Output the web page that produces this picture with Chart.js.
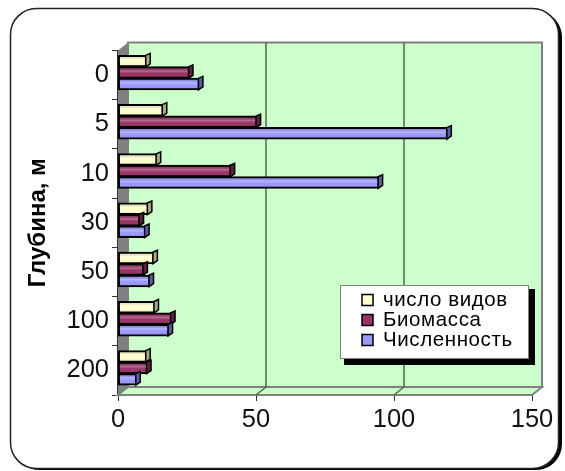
<!DOCTYPE html>
<html>
<head>
<meta charset="utf-8">
<style>
body { margin: 0; background: #fff; }
canvas { display: block; }
</style>
<script src="https://cdn.jsdelivr.net/npm/chart.js@4"></script>
</head>
<body>
<canvas id="myChart" width="565" height="471"></canvas>
<script>
const depths = ['0', '5', '10', '30', '50', '100', '200'];
const speciesCount = [10.4, 16.4, 14.2, 11, 13, 13.4, 10.4];
const biomass = [25.9, 50.4, 41, 8, 9.4, 19.4, 10.7];
const abundance = [29.5, 119.5, 94.6, 10, 11.6, 18.5, 6.8];
const seriesNames = ['число видов', 'Биомасса', 'Численность'];
const seriesColors = ['#FFFFCC', '#993366', '#9999FF'];
const capColors = ['#aaaa80', '#5c1f3d', '#5c5ca8'];
const axisTicks = [0, 50, 100, 150];

const depthX = 10; // depth of the 3d box
const depthY = 8;
const FONT = '"Liberation Sans", Arial, sans-serif';

// rounded panel and the 3d walls behind the bars
const backdrop = {
    id: 'backdrop',
    beforeDraw(chart) {
        const c = chart.ctx;
        c.save();
        c.fillStyle = '#000';
        c.beginPath();
        c.roundRect(13, 11, 549, 459, 26);
        c.fill();
        c.fillStyle = '#fff';
        c.strokeStyle = '#222';
        c.lineWidth = 1.5;
        c.beginPath();
        c.roundRect(10.5, 8.5, 548, 460, 26);
        c.fill();
        c.stroke();
        c.restore();
    },
    beforeDatasetsDraw(chart) {
        const c = chart.ctx;
        const a = chart.chartArea;
        c.save();
        // back wall
        c.fillStyle = '#CCFFCC';
        c.strokeStyle = '#808080';
        c.lineWidth = 2;
        c.fillRect(a.left + depthX, a.top - depthY, a.width, a.height);
        c.strokeRect(a.left + depthX, a.top - depthY, a.width, a.height);
        // floor
        c.beginPath();
        c.moveTo(a.left, a.bottom);
        c.lineTo(a.left + depthX, a.bottom - depthY);
        c.lineTo(a.right + depthX, a.bottom - depthY);
        c.lineTo(a.right, a.bottom);
        c.closePath();
        c.fill();
        c.stroke();
        // left wall
        c.fillStyle = '#808080';
        c.beginPath();
        c.moveTo(a.left, a.top);
        c.lineTo(a.left + depthX, a.top - depthY);
        c.lineTo(a.left + depthX, a.bottom - depthY);
        c.lineTo(a.left, a.bottom);
        c.closePath();
        c.fill();
        // gridlines on wall and floor
        c.strokeStyle = '#4d6b4d';
        c.lineWidth = 1.5;
        chart.scales.x.ticks.forEach(t => {
            if (t.value === 0 || t.value === 150) return;
            const px = chart.scales.x.getPixelForValue(t.value);
            c.beginPath();
            c.moveTo(px, a.bottom);
            c.lineTo(px + depthX, a.bottom - depthY);
            c.lineTo(px + depthX, a.top - depthY);
            c.stroke();
        });
        c.restore();
        // bars sit a little forward of the tick band
        c.save();
        c.translate(0, -2.5);
    },
    afterDatasetsDraw(chart) {
        const c = chart.ctx;
        chart.data.datasets.forEach((ds, i) => {
            chart.getDatasetMeta(i).data.forEach(bar => {
                const top = bar.y - bar.height / 2;
                const bottom = bar.y + bar.height / 2;
                // shine along the bar
                const g = c.createLinearGradient(0, top + 1, 0, bottom - 1);
                g.addColorStop(0, 'rgba(0,0,0,0.10)');
                g.addColorStop(0.35, 'rgba(255,255,255,0.28)');
                g.addColorStop(0.6, 'rgba(255,255,255,0)');
                g.addColorStop(1, 'rgba(0,0,0,0.10)');
                c.fillStyle = g;
                c.fillRect(bar.base + 1, top + 1, bar.x - bar.base - 2, bar.height - 2);
                // end cap
                c.fillStyle = capColors[i];
                c.strokeStyle = '#000';
                c.lineWidth = 1.5;
                c.beginPath();
                c.moveTo(bar.x - 1, top);
                c.lineTo(bar.x + 3.5, top - 2);
                c.lineTo(bar.x + 3.5, bottom - 3);
                c.lineTo(bar.x - 1, bottom);
                c.closePath();
                c.fill();
                c.stroke();
            });
        });
        c.restore();
    },
    afterDraw(chart) {
        const c = chart.ctx;
        c.save();
        c.fillStyle = '#000';
        c.fillRect(344, 289, 191, 76);
        c.fillStyle = '#fff';
        c.strokeStyle = '#808080';
        c.lineWidth = 1;
        c.fillRect(340, 285, 188, 73);
        c.strokeRect(340.5, 285.5, 188, 73);
        c.font = '20.5px ' + FONT;
        c.letterSpacing = '0.6px';
        c.textBaseline = 'middle';
        seriesNames.forEach((name, i) => {
            const y = 300 + i * 20;
            c.fillStyle = seriesColors[i];
            c.strokeStyle = '#000';
            c.lineWidth = 1.5;
            c.fillRect(362, y - 5.5, 11, 11);
            c.strokeRect(362, y - 5.5, 11, 11);
            c.fillStyle = '#000';
            c.fillText(name, 383, y + 0.5);
        });
        c.restore();
    }
};

new Chart(document.getElementById('myChart'), {
    type: 'bar',
    plugins: [backdrop],
    data: {
        labels: depths,
        datasets: [speciesCount, biomass, abundance].map((values, i) => ({
            label: seriesNames[i],
            data: values,
            backgroundColor: seriesColors[i],
            borderColor: '#000',
            borderWidth: 2,
            borderSkipped: false,
            inflateAmount: 0.5,
            barPercentage: 1,
            categoryPercentage: 0.7
        }))
    },
    options: {
        indexAxis: 'y',
        responsive: false,
        animation: false,
        layout: { padding: { top: 50.5, right: 33 } },
        plugins: {
            legend: { display: false },
            tooltip: { enabled: false }
        },
        scales: {
            x: {
                min: 0,
                max: 150,
                afterBuildTicks: s => { s.ticks = axisTicks.map(v => ({ value: v })); },
                afterFit: s => { s.height = 76; },
                grid: { drawOnChartArea: false, color: '#333', tickLength: 6 },
                border: { color: '#808080', width: 2 },
                ticks: { color: '#111', font: { family: FONT, size: 25.5 }, padding: 4, maxRotation: 0 }
            },
            y: {
                afterFit: s => { s.width = 118; },
                grid: { drawOnChartArea: false, color: '#333', tickLength: 6 },
                border: { color: '#333', width: 2 },
                ticks: { color: '#111', font: { family: FONT, size: 25.5 }, padding: 3 },
                title: {
                    display: true,
                    text: 'Глубина, м',
                    color: '#000',
                    font: { family: FONT, size: 24, weight: 'bold' },
                    padding: { top: 24, bottom: 0 }
                }
            }
        }
    }
});
</script>
</body>
</html>
